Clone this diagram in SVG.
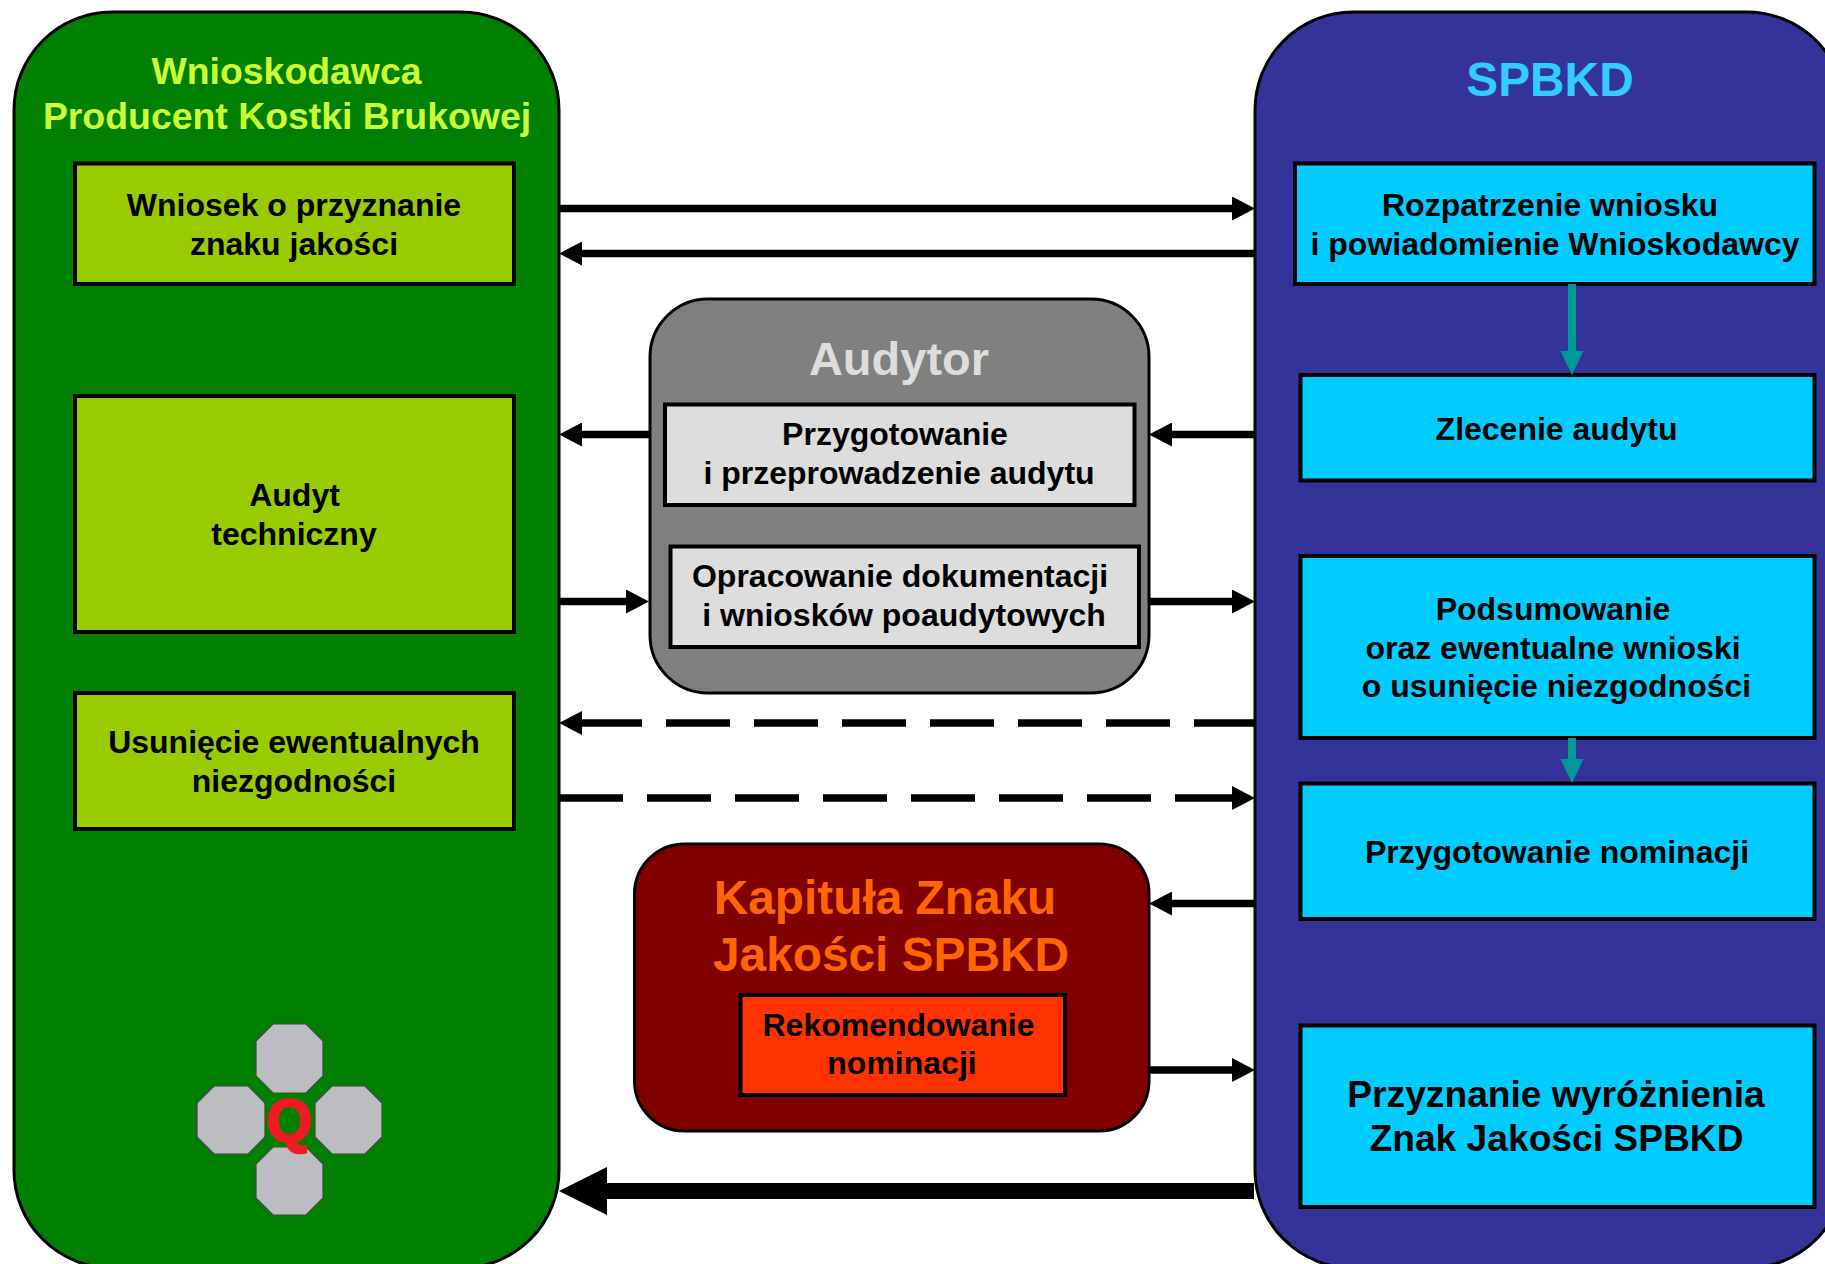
<svg xmlns="http://www.w3.org/2000/svg" width="1825" height="1264" viewBox="0 0 1825 1264">
<defs>
<style>
text{font-family:"Liberation Sans",Arial,sans-serif;font-weight:700;text-anchor:middle;fill:#000}
.t{font-size:32px}
.b{font-size:37.200px}
.h{font-size:37.400px;fill:#CCFF33}
.panel{stroke:#000;stroke-width:3}
.box{stroke:#000;stroke-width:4}
.green{fill:#99CC00}
.blue{fill:#00CCFF}
.grey{fill:#DDDDDD}
.oct{fill:#BBBDC0;stroke:#444;stroke-width:1.2}
.c{fill:none;stroke:#000;stroke-width:7.500}
.d{stroke-dasharray:64 24}
.dl{stroke-dashoffset:4}
</style>
<marker id="ah" markerUnits="userSpaceOnUse" markerWidth="23" markerHeight="24" refX="0" refY="12" orient="auto" viewBox="0 0 23 24"><path d="M0 0L23 12L0 24Z" fill="#000"/></marker>
<marker id="ahb" markerUnits="userSpaceOnUse" markerWidth="48" markerHeight="48" refX="0" refY="24" orient="auto" viewBox="0 0 48 48"><path d="M0 0L48 24L0 48Z" fill="#000"/></marker>
<marker id="aht" markerUnits="userSpaceOnUse" markerWidth="24" markerHeight="25" refX="0" refY="12" orient="auto" viewBox="0 0 25 24"><path d="M0 0L25 12L0 24Z" fill="#009999"/></marker>
</defs>
<rect width="1825" height="1264" fill="#fff"/>
<g id="node-wnioskodawca">
<rect class="panel" x="14" y="12" width="545" height="1256" rx="98" ry="98" fill="#008000"/>
<text class="h" x="286.500" y="84">Wnioskodawca</text>
<text class="h" x="287" y="129">Producent Kostki Brukowej</text>
</g>
<g id="node-spbkd">
<rect class="panel" x="1255" y="12" width="590" height="1256" rx="98" ry="98" fill="#333399"/>
<text x="1550" y="96" style="font-size:47.800px;fill:#33CCFF">SPBKD</text>
</g>
<g id="node-wniosek"><rect class="box green" x="75" y="163.500" width="439" height="120.500"/><text class="t" x="294" y="216">Wniosek o przyznanie</text><text class="t" x="294" y="255">znaku jakości</text></g>
<g id="node-audyt"><rect class="box green" x="75" y="396" width="439" height="236"/><text class="t" x="294.500" y="506">Audyt</text><text class="t" x="294" y="545">techniczny</text></g>
<g id="node-usuniecie"><rect class="box green" x="75" y="693" width="439" height="136"/><text class="t" x="294" y="753">Usunięcie ewentualnych</text><text class="t" x="294" y="792">niezgodności</text></g>
<g id="node-logo">
<polygon class="oct" points="273,1024 306,1024 323,1041 323,1076 306,1093 273,1093 256,1076 256,1041"/>
<polygon class="oct" points="214,1086 248,1086 265,1103 265,1137 248,1154 214,1154 197,1137 197,1103"/>
<polygon class="oct" points="332,1086 365,1086 382,1103 382,1137 365,1154 332,1154 315,1137 315,1103"/>
<polygon class="oct" points="273,1147 306,1147 323,1164 323,1198 306,1215 273,1215 256,1198 256,1164"/>
<text x="289.500" y="1141" style="font-size:59px;fill:#ED1C24;stroke:#ED1C24;stroke-width:2.500">Q</text>
</g>
<g id="node-audytor">
<rect class="panel" x="650" y="299" width="499" height="394" rx="58" ry="58" fill="#808080"/>
<text x="899" y="375" style="font-size:47px;fill:#DDDDDD">Audytor</text>
</g>
<g id="node-przygotowanie"><rect class="box grey" x="665" y="404.500" width="469.500" height="100.500"/><text class="t" x="895" y="445">Przygotowanie</text><text class="t" x="899" y="484">i przeprowadzenie audytu</text></g>
<g id="node-opracowanie"><rect class="box grey" x="670.500" y="546.500" width="468.500" height="100.500"/><text class="t" x="900" y="587">Opracowanie dokumentacji</text><text class="t" x="904" y="626">i wniosków poaudytowych</text></g>
<g id="node-kapitula">
<rect class="panel" x="634.500" y="844" width="514.500" height="287" rx="50" ry="50" fill="#800000"/>
<text x="885" y="914" style="font-size:47.800px;fill:#FF6600">Kapituła Znaku</text>
<text x="891" y="971" style="font-size:47.800px;fill:#FF6600">Jakości SPBKD</text>
</g>
<g id="node-rekomendowanie"><rect class="box" fill="#FF3300" x="740.500" y="995" width="324.500" height="100"/><text class="t" x="898.500" y="1036">Rekomendowanie</text><text class="t" x="902" y="1074">nominacji</text></g>
<g id="node-rozpatrzenie"><rect class="box blue" x="1295" y="163.500" width="519.500" height="120.500"/><text class="t" x="1550" y="216">Rozpatrzenie wniosku</text><text class="t" x="1555" y="255">i powiadomienie Wnioskodawcy</text></g>
<g id="node-zlecenie"><rect class="box blue" x="1300.500" y="375" width="514" height="105.500"/><text class="t" x="1556.500" y="440">Zlecenie audytu</text></g>
<g id="node-podsumowanie"><rect class="box blue" x="1300.500" y="556" width="514" height="182"/><text class="t" x="1553" y="620">Podsumowanie</text><text class="t" x="1553" y="659">oraz ewentualne wnioski</text><text class="t" x="1556.500" y="697">o usunięcie niezgodności</text></g>
<g id="node-nominacja"><rect class="box blue" x="1300.500" y="783.500" width="514" height="135.500"/><text class="t" x="1557" y="863">Przygotowanie nominacji</text></g>
<g id="node-przyznanie"><rect class="box blue" x="1300.500" y="1025.500" width="514" height="181.500"/><text class="b" x="1556" y="1107">Przyznanie wyróżnienia</text><text class="b" x="1556.500" y="1151">Znak Jakości SPBKD</text></g>
<g id="connectors">
<path class="c" d="M559 208.500H1232" marker-end="url(#ah)"/>
<path class="c" d="M1254 253.500H582" marker-end="url(#ah)"/>
<path class="c" d="M1254 434.500H1172" marker-end="url(#ah)"/>
<path class="c" d="M649 434.500H582" marker-end="url(#ah)"/>
<path class="c" d="M559 601.500H626" marker-end="url(#ah)"/>
<path class="c" d="M1149 601.500H1232" marker-end="url(#ah)"/>
<path class="c d dl" d="M1254 723H582" marker-end="url(#ah)"/>
<path class="c d" d="M559 798H1232" marker-end="url(#ah)"/>
<path class="c" d="M1254 903.500H1172" marker-end="url(#ah)"/>
<path class="c" d="M1149 1070H1232" marker-end="url(#ah)"/>
<path d="M1254 1191H607" fill="none" stroke="#000" stroke-width="16" marker-end="url(#ahb)"/>
<path d="M1572 284V351" fill="none" stroke="#009999" stroke-width="8" marker-end="url(#aht)"/>
<path d="M1572 738V759" fill="none" stroke="#009999" stroke-width="8" marker-end="url(#aht)"/>
</g>
</svg>
